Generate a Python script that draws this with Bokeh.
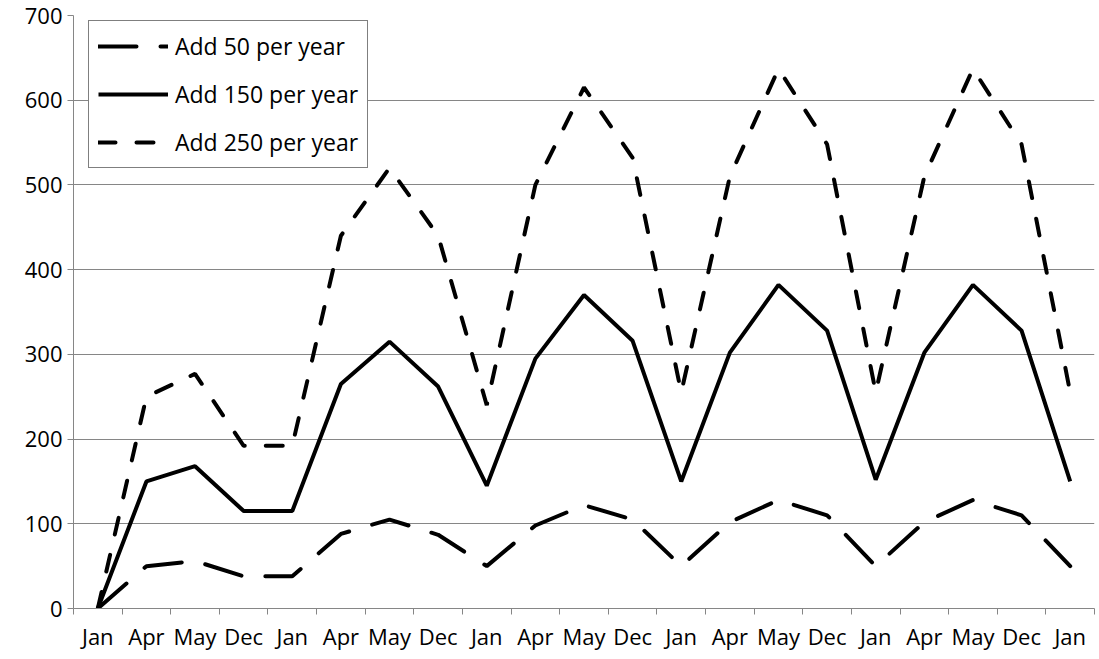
import numpy as np
from bokeh.plotting import figure
from bokeh.models import Range1d, FixedTicker, Legend, LegendItem
from bokeh.embed import file_html
from bokeh.resources import INLINE

months = ["Jan", "Apr", "May", "Dec", "Jan", "Apr", "May", "Dec", "Jan", "Apr", "May",
          "Dec", "Jan", "Apr", "May", "Dec", "Jan", "Apr", "May", "Dec", "Jan"]
add50 = [0, 50, 56, 38, 38, 88, 105, 87, 50, 98, 122, 105, 50, 102, 128, 110, 50, 102, 128, 110, 50]
add150 = [0, 150, 168, 115, 115, 265, 315, 262, 145, 295, 370, 316, 150, 302, 382, 328, 152, 302, 382, 328, 150]
add250 = [0, 250, 277, 192, 192, 440, 520, 440, 240, 500, 615, 532, 255, 510, 637, 548, 255, 510, 637, 548, 255]
y_ticks = [0, 100, 200, 300, 400, 500, 600, 700]
labels = ["Add 50 per year", "Add 150 per year", "Add 250 per year"]

GRAY = "#868686"
FONT = "Open Sans"
FS = "22px"

n = len(months)
xs = [i + 0.5 for i in range(n)]

p = figure(frame_width=1021, frame_height=593,
           x_range=Range1d(0, n), y_range=Range1d(0, 700),
           output_backend="svg", toolbar_location=None,
           min_border_left=73, min_border_top=15, min_border_right=1, min_border_bottom=51)
p.outline_line_color = None
p.background_fill_color = "white"

r50 = p.line(xs, add50, line_color="black", line_width=4, line_dash="38 24", line_cap="round")
r150 = p.line(xs, add150, line_color="black", line_width=4)
r250 = p.line(xs, add250, line_color="black", line_width=4, line_dash="17 21", line_cap="round")

# x axis
xa = p.xaxis[0]
xa.ticker = FixedTicker(ticks=xs, minor_ticks=list(range(n + 1)))
xa.major_label_overrides = {x: m for x, m in zip(xs, months)}
xa.major_tick_line_color = None
xa.major_tick_in = 0
xa.major_tick_out = 6
xa.minor_tick_line_color = GRAY
xa.minor_tick_in = 0
xa.minor_tick_out = 6
xa.axis_line_color = GRAY
xa.major_label_standoff = 6
xa.major_label_text_font = FONT
xa.major_label_text_font_size = FS
xa.major_label_text_color = "black"

# y axis
ya = p.yaxis[0]
ya.ticker = FixedTicker(ticks=y_ticks, minor_ticks=[])
ya.major_tick_in = 0
ya.major_tick_out = 6
ya.major_tick_line_color = GRAY
ya.axis_line_color = GRAY
ya.major_label_standoff = 5
ya.major_label_text_font = FONT
ya.major_label_text_font_size = FS
ya.major_label_text_color = "black"

p.xgrid.visible = False
p.ygrid.grid_line_color = GRAY
p.ygrid.grid_line_width = 1

legend = Legend(items=[LegendItem(label=labels[0], renderers=[r50]),
                       LegendItem(label=labels[1], renderers=[r150]),
                       LegendItem(label=labels[2], renderers=[r250])],
                location=(15, 440))
legend.border_line_color = "black"
legend.border_line_width = 1.5
legend.label_text_font = FONT
legend.label_text_font_size = "23px"
legend.label_text_color = "black"
legend.glyph_width = 70
legend.glyph_height = 20
legend.label_height = 20
legend.spacing = 16
legend.padding = 9
legend.label_standoff = 7
legend.margin = 0
legend.background_fill_alpha = 1
p.add_layout(legend)

open("out.html", "w").write(file_html(p, INLINE))
